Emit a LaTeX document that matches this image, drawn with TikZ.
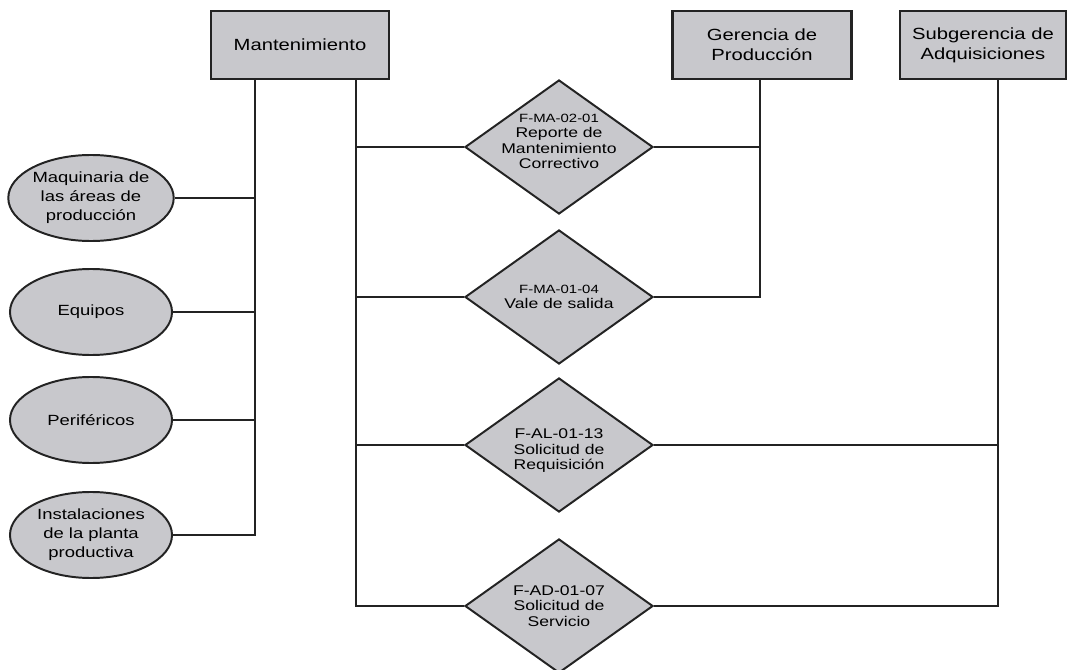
\documentclass[tikz,border=0pt]{standalone}
\usepackage{fontspec}
\setmainfont{Liberation Sans}[FakeStretch=1.25]
\usetikzlibrary{shapes.geometric, calc}
\definecolor{cfill}{RGB}{200,200,204}
\definecolor{cline}{RGB}{35,35,35}
\newcommand{\codfont}{\fontsize{8.5}{10}\selectfont}
\tikzset{
  every picture/.style={line width=1.1pt, draw=cline},
  area/.style={draw=cline, line width=2pt, fill=cfill, minimum width=#1, minimum height=1.7cm, align=center, font=\fontsize{11.5}{14}\selectfont},
  area/.default=4.4cm,
  recurso/.style={ellipse, draw=cline, line width=1.4pt, fill=cfill, minimum width=4.05cm, minimum height=2.15cm, inner sep=0pt, align=center, font=\fontsize{10.5}{13.5}\selectfont},
  formato/.style={diamond, draw=cline, line width=1.4pt, fill=cfill, minimum width=4.7cm, minimum height=3.35cm, inner sep=0pt},
  formtext/.style={align=center, font=\fontsize{10}{11}\selectfont},
  enlace/.style={draw=cline, line width=1.1pt},
}

\begin{document}
\begin{tikzpicture}[x=0.025cm, y=-0.025cm]
  \useasboundingbox (0,0) rectangle (1068,670);
  % areas
  \node[area=4.45cm] (mant) at (300,45) {Mantenimiento};
  \node[area=4.475cm] (ger) at (762,45) {Gerencia de\\Producción};
  \node[area=4.15cm] (sub) at (983,45) {Subgerencia de\\Adquisiciones};
  % recursos
  \node[recurso] (maq) at (91,198) {Maquinaria de\\las áreas de\\producción};
  \node[recurso] (equ) at (91,312) {Equipos};
  \node[recurso] (per) at (91,420) {Periféricos};
  \node[recurso] (inst) at (91,535) {Instalaciones\\de la planta\\productiva};
  % formatos
  \node[formato, label={[formtext, yshift=4pt]center:{{\codfont F-MA-02-01}\\Reporte de\\Mantenimiento\\Correctivo}}] (f1) at (559,147) {};
  \node[formato, label={[formtext]center:{{\codfont F-MA-01-04}\\Vale de salida}}] (f2) at (559,297) {};
  \node[formato, label={[formtext, yshift=-4pt]center:{F-AL-01-13\\Solicitud de\\Requisición}}] (f3) at (559,445) {};
  \node[formato, label={[formtext]center:{F-AD-01-07\\Solicitud de\\Servicio}}] (f4) at (559,606) {};
  % ejes
  \coordinate (ejeA) at (255,0);
  \coordinate (ejeB) at (356,0);
  \coordinate (ejeC) at (760,0);
  \coordinate (ejeD) at (998,0);
  \draw[enlace] (mant.south -| ejeA) -- (ejeA |- inst.east) -- (inst.east);
  \foreach \nd in {maq, equ, per}
    \draw[enlace] (\nd.east) -- (\nd.east -| ejeA);
  \draw[enlace] (mant.south -| ejeB) |- (f4.west);
  \foreach \nd in {f1, f2, f3}
    \draw[enlace] (\nd.west) -- (\nd.west -| ejeB);
  \draw[enlace] (ger.south -| ejeC) |- (f2.east);
  \draw[enlace] (f1.east) -- (f1.east -| ejeC);
  \draw[enlace] (sub.south -| ejeD) |- (f4.east);
  \draw[enlace] (f3.east) -- (f3.east -| ejeD);
\end{tikzpicture}
\end{document}
